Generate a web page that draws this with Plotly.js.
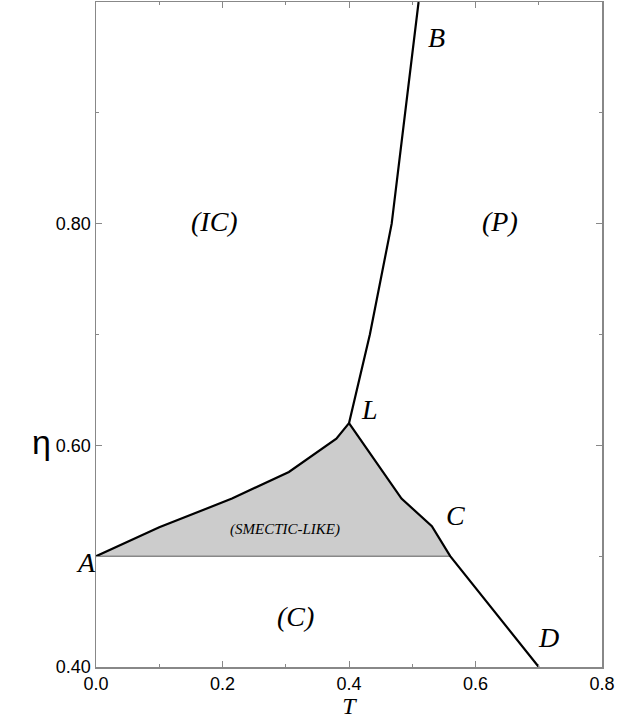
<!DOCTYPE html>
<html>
<head>
<meta charset="utf-8">
<script src="https://cdn.plot.ly/plotly-3.0.1.min.js"></script>
<style>html,body{margin:0;padding:0;background:#fff;}#chart{width:637px;height:719px;}</style>
</head>
<body>
<div id="chart"></div>
<script>
// Boundary A–L (upper edge of the smectic-like region)
const AL_T   = [0, 0.1, 0.215, 0.305, 0.38, 0.40];
const AL_eta = [0.5, 0.526, 0.552, 0.576, 0.606, 0.62];
// Boundary L–B
const LB_T   = [0.40, 0.433, 0.4675, 0.51];
const LB_eta = [0.62, 0.70, 0.80, 1.0];
// Boundary L–C–D
const LD_T   = [0.40, 0.483, 0.531, 0.56, 0.70];
const LD_eta = [0.62, 0.552, 0.527, 0.5, 0.40];
// Bottom edge of smectic-like region
const base_T   = [0, 0.56];
const base_eta = [0.5, 0.5];

// Region and point labels
const labelText = ['(IC)', '(P)', '(C)', '(SMECTIC-LIKE)', 'A', 'B', 'L', 'C', 'D'];
const labelT    = [0.188, 0.639, 0.316, 0.299, 0.0, 0.539, 0.433, 0.568, 0.715];
const labelEta  = [0.802, 0.802, 0.446, 0.524, 0.494, 0.968, 0.632, 0.537, 0.427];
const labelSize = [28, 28, 28, 15, 28, 28, 28, 28, 28];
const labelShift = [0, 0, 0, 0, -10, 0, 0, 0, 0];

// shaded polygon built from the boundary arrays
const fillT = AL_T.concat(LD_T.slice(1, 4)).concat([AL_T[0]]);
const fillEta = AL_eta.concat(LD_eta.slice(1, 4)).concat([AL_eta[0]]);

const traces = [
  {x: fillT, y: fillEta, mode: 'lines', fill: 'toself', fillcolor: '#cccccc',
   line: {width: 0, color: 'rgba(0,0,0,0)'}, hoverinfo: 'skip', showlegend: false},
  {x: base_T, y: base_eta, mode: 'lines', line: {color: '#888888', width: 1.5}, showlegend: false},
  {x: AL_T, y: AL_eta, mode: 'lines', line: {color: '#000', width: 2.2}, showlegend: false},
  {x: LB_T, y: LB_eta, mode: 'lines', line: {color: '#000', width: 2.2}, showlegend: false},
  {x: LD_T, y: LD_eta, mode: 'lines', line: {color: '#000', width: 2.2}, showlegend: false}
];

const annotations = labelText.map((t, i) => ({
  x: labelT[i], y: labelEta[i], xref: 'x', yref: 'y', text: '<i>' + t + '</i>',
  xshift: labelShift[i],
  showarrow: false, font: {family: 'Liberation Serif', size: labelSize[i], color: '#000'}
}));
annotations.push({
  x: -0.13, y: 0.338, xref: 'paper', yref: 'paper', text: 'η', showarrow: false,
  font: {family: 'Liberation Sans', size: 34, color: '#000'}
});

const axisCommon = {
  showgrid: false, zeroline: false, showline: true, linecolor: '#888888', linewidth: 1.5,
  mirror: 'ticks', ticks: 'inside', ticklen: 6, tickcolor: '#888888', tickwidth: 1,
  tickfont: {family: 'Liberation Sans', size: 18, color: '#000'}
};

const layout = {
  width: 637, height: 719,
  margin: {l: 96, r: 35, t: 2, b: 52},
  paper_bgcolor: '#fff', plot_bgcolor: '#fff',
  showlegend: false,
  xaxis: Object.assign({}, axisCommon, {
    range: [0, 0.8], tick0: 0, dtick: 0.2, tickformat: '.1f',
    minor: {dtick: 0.1, ticks: 'inside', ticklen: 3, tickcolor: '#888888'},
    title: {text: '<i>T</i>', font: {family: 'Liberation Serif', size: 24, color: '#000'}, standoff: 8}
  }),
  yaxis: Object.assign({}, axisCommon, {
    range: [0.4, 1.0], tick0: 0.4, dtick: 0.2, tickformat: '.2f',
    minor: {dtick: 0.1, ticks: 'inside', ticklen: 3, tickcolor: '#888888'}
  }),
  annotations: annotations
};

Plotly.newPlot('chart', traces, layout, {displayModeBar: false, staticPlot: true});
</script>
</body>
</html>
